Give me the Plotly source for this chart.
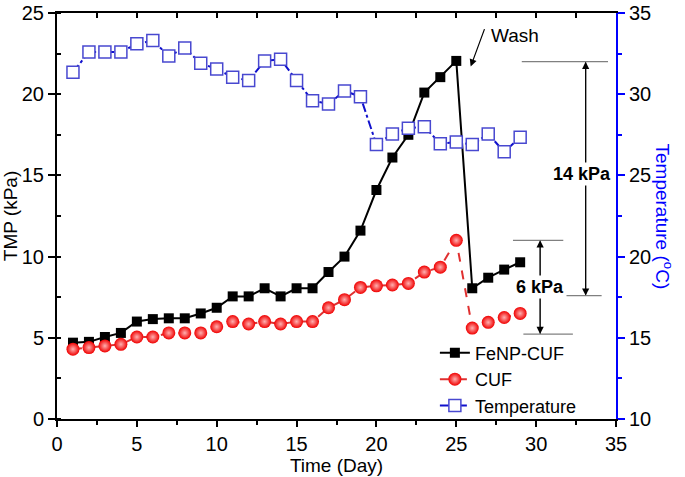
import plotly.graph_objects as go

days = list(range(1, 30))
fenp_cuf = [4.7, 4.75, 5.05, 5.3, 6.0, 6.15, 6.2, 6.2, 6.5, 6.85, 7.55, 7.55, 8.05, 7.55, 8.05,
            8.05, 9.05, 10.0, 11.6, 14.1, 16.1, 17.5, 20.1, 21.05, 22.05, 8.05, 8.7, 9.2, 9.65]
cuf = [4.3, 4.4, 4.5, 4.6, 5.05, 5.05, 5.3, 5.3, 5.3, 5.68, 6.0, 5.85, 6.0, 5.85, 6.0,
       6.0, 6.85, 7.35, 8.1, 8.2, 8.25, 8.35, 9.05, 9.35, 11.0, 5.6, 5.95, 6.25, 6.5]
temperature = [31.35, 32.6, 32.6, 32.6, 33.1, 33.3, 32.35, 32.85, 31.9, 31.55, 31.05, 30.85,
               32.05, 32.15, 30.85, 29.6, 29.4, 30.2, 29.85, 26.9, 27.55, 27.9, 28.0, 26.95,
               27.05, 26.9, 27.55, 26.45, 27.35]

FONT = "Liberation Sans, Arial, sans-serif"

fig = go.Figure()
fig.add_trace(go.Scatter(
    x=days, y=fenp_cuf, name="FeNP-CUF", mode="lines+markers",
    line=dict(color="black", width=2),
    marker=dict(symbol="square", size=10, color="black"),
))
fig.add_trace(go.Scatter(
    x=days, y=cuf, name="CUF", mode="lines+markers",
    line=dict(color="#E03030", width=2, dash="dash"),
    marker=dict(symbol="circle", size=13, color="#F00000",
                gradient=dict(type="radial", color="#FFB0B0"), line=dict(width=0)),
))
fig.add_trace(go.Scatter(
    x=days, y=temperature, name="Temperature", mode="lines+markers", yaxis="y2",
    line=dict(color="#1010CC", width=2, dash="dashdot"),
    marker=dict(symbol="square", size=12, color="white",
                line=dict(color="#4848D0", width=1.5)),
))

# dimension lines
dim_lines = [
    (29.1, 34.5, 22.0, 22.0), (31.9, 34.1, 7.6, 7.6),
    (28.55, 31.7, 11.0, 11.0), (29.2, 32.3, 5.23, 5.23),
    (33.1, 33.1, 22.0, 7.6), (30.25, 30.25, 11.0, 5.23),
]
for x0, x1, y0, y1 in dim_lines:
    fig.add_shape(type="line", x0=x0, x1=x1, y0=y0, y1=y1, xref="x", yref="y",
                  line=dict(color="#808080", width=1.3))

ann = []
arrows = [
    (25.9, 21.7, 26.8, 24.1),
    (33.1, 22.0, 33.1, 15.0),
    (33.1, 7.6, 33.1, 15.0),
    (30.25, 11.0, 30.25, 8.1),
    (30.25, 5.23, 30.25, 8.1),
]
for x, y, ax, ay in arrows:
    ann.append(dict(x=x, y=y, ax=ax, ay=ay, xref="x", yref="y", axref="x", ayref="y",
                    text="", showarrow=True, arrowhead=2, arrowsize=1.2, arrowwidth=1.2,
                    arrowcolor="black"))
ann.append(dict(x=28.7, y=23.6, xref="x", yref="y", text="Wash", showarrow=False,
                font=dict(size=19, color="black", family=FONT)))
ann.append(dict(x=32.85, y=15.1, xref="x", yref="y", text="<b>14 kPa</b>", showarrow=False,
                bgcolor="white", font=dict(size=18, color="black", family=FONT)))
ann.append(dict(x=30.25, y=8.1, xref="x", yref="y", text="<b>6 kPa</b>", showarrow=False,
                bgcolor="white", font=dict(size=18, color="black", family=FONT)))
ann.append(dict(x=1.085, y=0.5, xref="paper", yref="paper", text="Temperature (<sup>o</sup>C)",
                textangle=90, showarrow=False, xanchor="center", yanchor="middle",
                font=dict(size=19, color="#0000FF", family=FONT)))

fig.update_layout(
    width=685, height=477,
    margin=dict(l=57, r=69, t=13, b=58, autoexpand=False),
    paper_bgcolor="white", plot_bgcolor="white",
    font=dict(family=FONT, size=19, color="black"),
    showlegend=True,
    legend=dict(x=0.676, y=0.208, xanchor="left", yanchor="top",
                bgcolor="rgba(0,0,0,0)", font=dict(size=18), tracegroupgap=0),
    annotations=ann,
    xaxis=dict(range=[0, 35], dtick=5, showline=True, linecolor="black", linewidth=2,
               ticks="outside", ticklen=6, tickwidth=1.5, tickcolor="black",
               minor=dict(dtick=2.5, ticks="outside", ticklen=4, tickwidth=1.5, tickcolor="black"),
               showgrid=False, zeroline=False, automargin=False,
               title=dict(text="Time (Day)", standoff=0, font=dict(size=19)),
               tickfont=dict(size=20)),
    xaxis3=dict(range=[0, 35], overlaying="x", side="top", dtick=2.5, showline=True,
                linecolor="black", linewidth=2, ticks="inside", ticklen=5, tickwidth=1.5,
                tickcolor="black", showticklabels=False, showgrid=False, zeroline=False,
                automargin=False),
    yaxis=dict(range=[0, 25], dtick=5, showline=True, linecolor="black", linewidth=2,
               ticks="outside", ticklen=7, tickwidth=1.5, tickcolor="black",
               minor=dict(dtick=2.5, ticks="inside", ticklen=4, tickwidth=1.5, tickcolor="black"),
               showgrid=False, zeroline=False, automargin=False,
               title=dict(text="TMP (kPa)", standoff=2, font=dict(size=19)),
               tickfont=dict(size=20)),
    yaxis2=dict(range=[10, 35], dtick=5, overlaying="y", side="right", showline=True,
                linecolor="#0000FF", linewidth=2, ticks="outside", ticklen=7, tickwidth=1.5,
                tickcolor="#0000FF", automargin=False,
                minor=dict(dtick=2.5, ticks="outside", ticklen=4, tickwidth=1.5, tickcolor="#0000FF"),
                showgrid=False, zeroline=False, tickfont=dict(size=20, color="black")),
)
fig.add_trace(go.Scatter(x=[0], y=[0], xaxis="x3", mode="markers", showlegend=False,
                         marker=dict(opacity=0), hoverinfo="skip"))

fig.write_html("out.html", config={"displayModeBar": False},
               post_script="document.body.style.margin='0';")
